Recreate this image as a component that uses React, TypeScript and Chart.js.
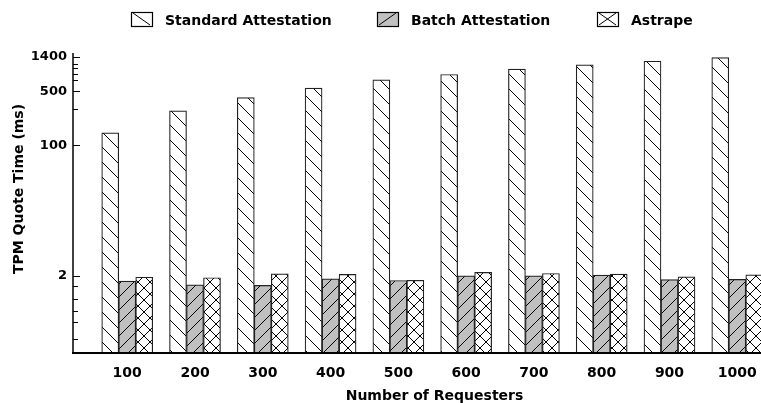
import React, { useEffect, useRef } from 'react';
import { Chart, registerables } from 'chart.js';

Chart.register(...registerables);

const categories = [100, 200, 300, 400, 500, 600, 700, 800, 900, 1000];
const xTickLabels = ['100', '200', '300', '400', '500', '600', '700', '800', '900', '1000'];
const standardValues = [145, 280, 417, 553, 709, 831, 977, 1111, 1235, 1375];
const batchValues = [1.72, 1.54, 1.51, 1.84, 1.75, 2.01, 2.01, 2.05, 1.8, 1.81];
const astrapeValues = [1.93, 1.9, 2.13, 2.1, 1.76, 2.23, 2.16, 2.12, 1.95, 2.07];
const seriesNames = ['Standard Attestation', 'Batch Attestation', 'Astrape'];
const yMajorTicks = [2, 100, 500, 1400];
const yMinorTicks = [0.3, 0.5, 0.7, 1, 1.5, 300, 700, 850, 1000, 1150];
const xTitle = 'Number of Requesters';
const yTitle = 'TPM Quote Time (ms)';

const FONT_FAMILY = '"DejaVu Sans", "Liberation Sans", sans-serif';

function makePattern(kind: 'back' | 'fwd' | 'cross', s: number, bg: string) {
  const c = document.createElement('canvas');
  c.width = s;
  c.height = s;
  const g = c.getContext('2d')!;
  g.fillStyle = bg;
  g.fillRect(0, 0, s, s);
  g.strokeStyle = '#000';
  g.lineWidth = 1;
  g.beginPath();
  if (kind === 'back' || kind === 'cross') {
    g.moveTo(-1, -1); g.lineTo(s + 1, s + 1);
    g.moveTo(-2, s - 2); g.lineTo(2, s + 2);
    g.moveTo(s - 2, -2); g.lineTo(s + 2, 2);
  }
  if (kind === 'fwd' || kind === 'cross') {
    g.moveTo(-1, s + 1); g.lineTo(s + 1, -1);
    g.moveTo(-2, 2); g.lineTo(2, -2);
    g.moveTo(s - 2, s + 2); g.lineTo(s + 2, s - 2);
  }
  g.stroke();
  return g.createPattern(c, 'repeat')!;
}

export default function App() {
  const ref = useRef<HTMLCanvasElement | null>(null);

  useEffect(() => {
    if (!ref.current) return;
    const pStd = makePattern('back', 15, '#ffffff');
    const pBatch = makePattern('fwd', 13, '#c0c0c0');
    const pAst = makePattern('cross', 12, '#ffffff');

    const extras = {
      id: 'extras',
      afterDraw(chart: any) {
        const ctx = chart.ctx as CanvasRenderingContext2D;
        const area = chart.chartArea;
        const ys = chart.scales.y;
        ctx.save();
        // axis lines
        ctx.strokeStyle = '#000';
        ctx.lineWidth = 2;
        ctx.beginPath();
        ctx.moveTo(area.left - 1, area.bottom);
        ctx.lineTo(area.right, area.bottom);
        ctx.stroke();
        ctx.lineWidth = 1.5;
        ctx.beginPath();
        ctx.moveTo(area.left, area.top);
        ctx.lineTo(area.left, area.bottom);
        ctx.stroke();
        // y tick marks (inward)
        ctx.lineWidth = 1.2;
        ctx.beginPath();
        yMajorTicks.forEach((v) => {
          const y = Math.round(ys.getPixelForValue(v)) + 0.5;
          ctx.moveTo(area.left, y);
          ctx.lineTo(area.left + 7, y);
        });
        yMinorTicks.forEach((v) => {
          const y = Math.round(ys.getPixelForValue(v)) + 0.5;
          ctx.moveTo(area.left, y);
          ctx.lineTo(area.left + 5, y);
        });
        ctx.stroke();

        // axis titles
        ctx.fillStyle = '#000';
        ctx.font = `bold 14px ${FONT_FAMILY}`;
        ctx.textAlign = 'center';
        ctx.textBaseline = 'alphabetic';
        ctx.fillText(xTitle, 434.5, 399.5);
        ctx.save();
        ctx.translate(23, 189);
        ctx.rotate(-Math.PI / 2);
        ctx.fillText(yTitle, 0, 0);
        ctx.restore();

        // legend
        const items = [
          { x: 131, bg: '#fff', kind: 'back' },
          { x: 377, bg: '#c0c0c0', kind: 'fwd' },
          { x: 597, bg: '#fff', kind: 'cross' },
        ];
        const bw = 21, bh = 14, by = 12;
        items.forEach((it, i) => {
          ctx.fillStyle = it.bg;
          ctx.fillRect(it.x, by, bw, bh);
          ctx.strokeStyle = '#000';
          ctx.lineWidth = 1;
          ctx.beginPath();
          if (it.kind === 'back' || it.kind === 'cross') {
            ctx.moveTo(it.x + 2, by + 1);
            ctx.lineTo(it.x + bw - 2, by + bh - 1);
          }
          if (it.kind === 'fwd' || it.kind === 'cross') {
            ctx.moveTo(it.x + 2, by + bh - 1);
            ctx.lineTo(it.x + bw - 2, by + 1);
          }
          ctx.stroke();
          ctx.lineWidth = 1.2;
          ctx.strokeRect(it.x + 0.5, by + 0.5, bw, bh);
          ctx.fillStyle = '#000';
          ctx.textAlign = 'left';
          ctx.textBaseline = 'alphabetic';
          ctx.font = `bold 14px ${FONT_FAMILY}`;
          ctx.fillText(seriesNames[i], it.x + 34, 25);
        });
        ctx.restore();
      },
    };

    const mk = (vals: number[]) => categories.map((c, i) => ({ x: c, y: vals[i] }));
    const common = {
      borderColor: '#222',
      borderWidth: 1.2,
      barThickness: 17,
    };

    const chart = new Chart(ref.current, {
      type: 'bar',
      data: {
        datasets: [
          { label: seriesNames[0], data: mk(standardValues), backgroundColor: pStd, ...common },
          { label: seriesNames[1], data: mk(batchValues), backgroundColor: pBatch, ...common },
          { label: seriesNames[2], data: mk(astrapeValues), backgroundColor: pAst, ...common },
        ] as any,
      },
      options: {
        animation: false,
        responsive: true,
        maintainAspectRatio: false,
        events: [],
        layout: { padding: { top: 53, left: 0, right: 0, bottom: 0 } },
        plugins: { legend: { display: false }, tooltip: { enabled: false } },
        scales: {
          x: {
            type: 'linear',
            min: 20,
            max: 1035,
            offset: false,
            afterFit: (s: any) => { s.height = 50; s.paddingLeft = 0; s.paddingRight = 0; },
            afterBuildTicks: (s: any) => { s.ticks = categories.map((v) => ({ value: v })); },
            ticks: {
              autoSkip: false,
              maxRotation: 0,
              color: '#000',
              padding: 12,
              font: { family: FONT_FAMILY, size: 14, weight: 'bold' },
              callback: (_v: any, i: number) => xTickLabels[i],
            },
            grid: { display: false, drawTicks: false },
            border: { display: false },
          },
          y: {
            type: 'logarithmic',
            min: 0.2,
            max: 1580,
            afterFit: (s: any) => { s.width = 73; s.paddingTop = 0; s.paddingBottom = 0; },
            afterBuildTicks: (s: any) => { s.ticks = yMajorTicks.map((v) => ({ value: v })); },
            ticks: {
              autoSkip: false,
              color: '#000',
              padding: 6,
              font: { family: FONT_FAMILY, size: 13, weight: 'bold' },
              callback: (v: any) => String(v),
            },
            grid: { display: false, drawTicks: false },
            border: { display: false },
          },
        },
      } as any,
      plugins: [extras],
    });
    return () => chart.destroy();
  }, []);

  return (
    <div style={{ position: 'absolute', left: 0, top: 0, width: 761, height: 403, background: '#fff' }}>
      <canvas ref={ref} />
    </div>
  );
}
